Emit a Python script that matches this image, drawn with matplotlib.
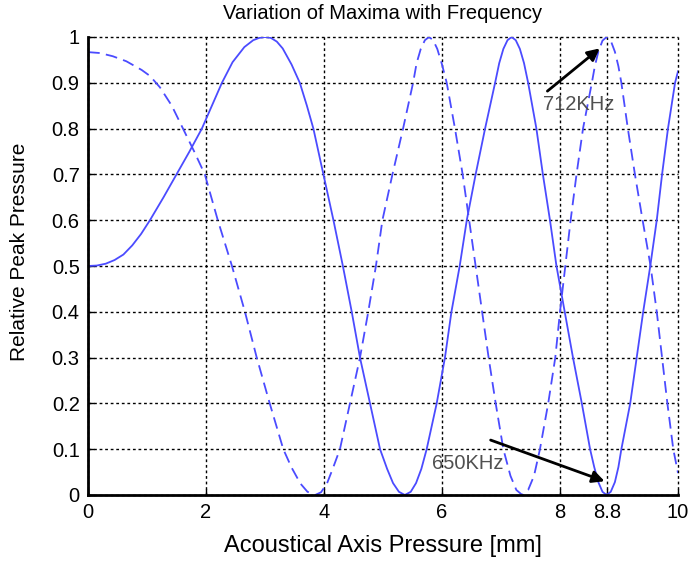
import matplotlib
matplotlib.use("Agg")
import matplotlib.pyplot as plt

plt.rcParams['font.family'] = ['Liberation Sans', 'DejaVu Sans']

# solid curve
solid_x = [0, 0.15, 0.3, 0.45, 0.6, 0.75, 0.9, 1.05, 1.28, 1.5, 1.72, 1.93, 2.1, 2.27, 2.45,
           2.65, 2.8, 2.9, 3.0, 3.1, 3.2, 3.3, 3.45, 3.59, 3.71, 3.82, 3.99, 4.16, 4.32,
           4.47, 4.61, 4.78, 4.95, 5.07, 5.17, 5.27, 5.37, 5.47, 5.56, 5.65, 5.74, 5.91,
           6.05, 6.16, 6.3, 6.42, 6.57, 6.73, 6.9, 6.97, 7.04, 7.11, 7.18, 7.25, 7.32, 7.39,
           7.46, 7.6, 7.71, 7.83, 7.94, 8.08, 8.22, 8.37, 8.51, 8.58, 8.65, 8.72, 8.79, 8.86,
           8.93, 8.99, 9.04, 9.19, 9.3, 9.41, 9.53, 9.64, 9.73, 9.83, 9.95, 10.0]
solid_y = [0.5, 0.501, 0.505, 0.513, 0.525, 0.545, 0.57, 0.6, 0.65, 0.7, 0.75, 0.8, 0.85, 0.9, 0.945,
           0.978, 0.993, 0.998, 1.0, 0.998, 0.99, 0.975, 0.94, 0.9, 0.85, 0.8, 0.7, 0.6, 0.5,
           0.4, 0.3, 0.2, 0.1, 0.057, 0.026, 0.007, 0.0, 0.007, 0.026, 0.057, 0.1, 0.2,
           0.3, 0.4, 0.5, 0.6, 0.7, 0.8, 0.9, 0.943, 0.974, 0.993, 1.0, 0.993, 0.974, 0.943,
           0.9, 0.8, 0.7, 0.6, 0.5, 0.4, 0.3, 0.2, 0.1, 0.061, 0.028, 0.007, 0.0, 0.007,
           0.028, 0.061, 0.1, 0.2, 0.3, 0.4, 0.5, 0.6, 0.7, 0.8, 0.9, 0.925]

# dashed curve
dash_x = [0, 0.2, 0.42, 0.65, 0.91, 1.05, 1.22, 1.42, 1.61, 1.8, 1.98, 2.2, 2.44, 2.66, 2.86,
          3.08, 3.31, 3.45, 3.6, 3.72, 3.85, 3.95, 4.05, 4.15, 4.27, 4.44, 4.61, 4.75, 4.88,
          4.99, 5.16, 5.34, 5.51, 5.57, 5.64, 5.71, 5.78, 5.85, 5.92, 6.0, 6.08, 6.22, 6.35,
          6.46, 6.57, 6.68, 6.79, 6.91, 7.04, 7.16, 7.26, 7.36, 7.46, 7.56, 7.66, 7.8, 7.92,
          8.0, 8.09, 8.18, 8.28, 8.39, 8.54, 8.59, 8.65, 8.72, 8.79, 8.86, 8.93, 8.99, 9.04,
          9.15, 9.27, 9.4, 9.535, 9.64, 9.73, 9.82, 9.92, 10.0]
dash_y = [0.967, 0.965, 0.958, 0.947, 0.928, 0.915, 0.89, 0.85, 0.8, 0.75, 0.7, 0.6, 0.5, 0.4, 0.3,
          0.2, 0.1, 0.06, 0.025, 0.007, 0.0, 0.006, 0.025, 0.058, 0.1, 0.2, 0.3, 0.4, 0.5,
          0.6, 0.7, 0.8, 0.9, 0.943, 0.974, 0.993, 1.0, 0.993, 0.974, 0.94, 0.9, 0.8, 0.7,
          0.6, 0.5, 0.4, 0.3, 0.2, 0.1, 0.042, 0.011, 0.0, 0.011, 0.042, 0.1, 0.2, 0.3,
          0.4, 0.5, 0.6, 0.7, 0.8, 0.9, 0.936, 0.968, 0.992, 1.0, 0.992, 0.968, 0.936, 0.9,
          0.8, 0.7, 0.6, 0.5, 0.4, 0.3, 0.2, 0.1, 0.048]

x_ticks = [0, 2, 4, 6, 8, 8.8, 10]
x_tick_labels = ["0", "2", "4", "6", "8", "8.8", "10"]
y_ticks = [0, 0.1, 0.2, 0.3, 0.4, 0.5, 0.6, 0.7, 0.8, 0.9, 1]
y_tick_labels = ["0", "0.1", "0.2", "0.3", "0.4", "0.5", "0.6", "0.7", "0.8", "0.9", "1"]

blue = "#4b4bff"

fig = plt.figure(figsize=(6.9, 5.63), dpi=100)
ax = fig.add_axes([88 / 690, 68 / 563, 590 / 690, 458 / 563])

ax.plot(solid_x, solid_y, color=blue, lw=1.3)
ln, = ax.plot(dash_x, dash_y, color=blue, lw=1.3)
ln.set_dashes([6.5, 3.5])

ax.set_xlim(0, 10)
ax.set_ylim(0, 1)
ax.set_xticks(x_ticks)
ax.set_xticklabels(x_tick_labels)
ax.set_yticks(y_ticks)
ax.set_yticklabels(y_tick_labels)
ax.tick_params(direction="in", length=4, width=1, labelsize=14.5, pad=6)

ax.grid(True, color="black", linestyle=(0, (2, 2)), lw=1.0)
for gl in ax.get_xgridlines() + ax.get_ygridlines():
    gl.set_clip_on(False)

for side in ["top", "right"]:
    ax.spines[side].set_visible(False)
for side in ["left", "bottom"]:
    ax.spines[side].set_linewidth(2)

ax.set_title("Variation of Maxima with Frequency", fontsize=14.5, pad=13)
ax.set_xlabel("Acoustical Axis Pressure [mm]", fontsize=17, labelpad=9)
ax.set_ylabel("Relative Peak Pressure", fontsize=15)
ax.yaxis.set_label_coords(-0.1, 0.53)

# annotations
ax.annotate("", xy=(8.71, 0.979), xytext=(7.75, 0.878),
            arrowprops=dict(arrowstyle="-|>", color="black", lw=2, mutation_scale=18))
ax.text(7.71, 0.852, "712KHz", fontsize=14.5, color="#505050", va="center", ha="left")
ax.annotate("", xy=(8.80, 0.028), xytext=(6.78, 0.122),
            arrowprops=dict(arrowstyle="-|>", color="black", lw=2, mutation_scale=18))
ax.text(5.83, 0.068, "650KHz", fontsize=14.5, color="#505050", va="center", ha="left")

fig.savefig("out.png", dpi=100)
